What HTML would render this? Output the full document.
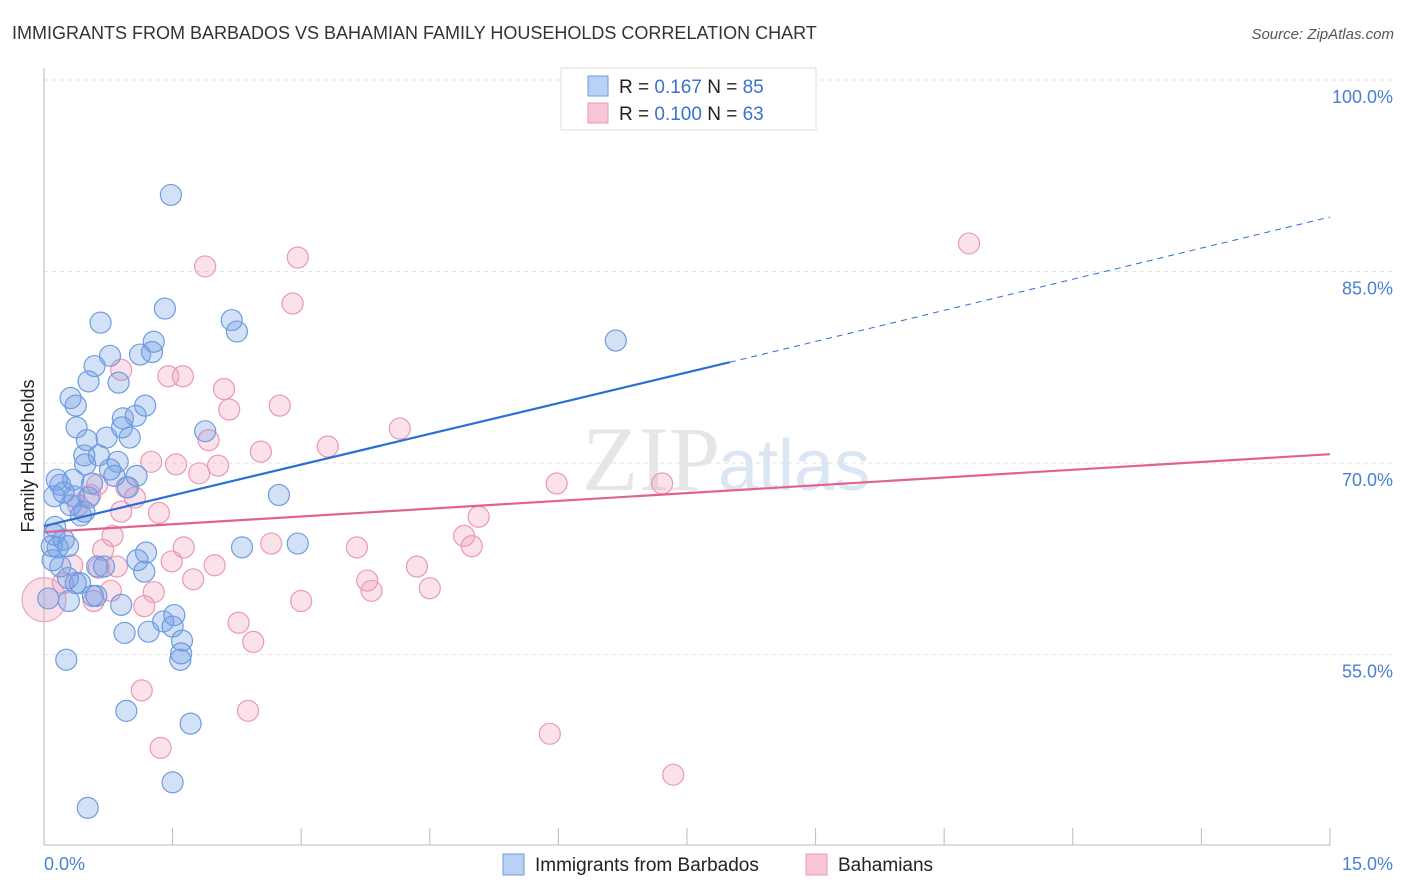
<!DOCTYPE html>
<html><head><meta charset="utf-8"><style>
body{margin:0;background:#fff;font-family:"Liberation Sans",sans-serif}
svg{display:block}
</style></head><body>
<svg id="c" width="1406" height="892">
<text x="12" y="39" font-size="18" fill="#333">IMMIGRANTS FROM BARBADOS VS BAHAMIAN FAMILY HOUSEHOLDS CORRELATION CHART</text>
<text x="1394" y="39" font-size="15" fill="#555" font-style="italic" text-anchor="end">Source: ZipAtlas.com</text>
<text x="720" y="490" font-size="92" fill="#e6e6e6" font-family="Liberation Serif,serif" text-anchor="end">ZIP</text>
<text x="718" y="490" font-size="72" fill="#dbe6f5">atlas</text>
<g id="grid"></g><g id="axes"></g><g id="pts"></g><g id="lines"></g>
<text transform="translate(34,456) rotate(-90)" font-size="18" fill="#222" text-anchor="middle">Family Households</text>
<g>
<rect x="561" y="68" width="255" height="62" fill="#fff" stroke="#ddd"/>
<rect x="588" y="76" width="20" height="20" fill="#b9d1f4" stroke="#6f9be0"/>
<rect x="588" y="103" width="20" height="20" fill="#f8c6d6" stroke="#e999b3"/>
<text x="619" y="93" font-size="19" fill="#222">R = <tspan fill="#3a72d1">0.167</tspan>   N = <tspan fill="#3a72d1">85</tspan></text>
<text x="619" y="120" font-size="19" fill="#222">R = <tspan fill="#3a72d1">0.100</tspan>   N = <tspan fill="#3a72d1">63</tspan></text>
</g>
<g>
<rect x="503" y="854" width="21" height="21" fill="#b9d1f4" stroke="#6f9be0"/>
<text x="535" y="871" font-size="19" fill="#222">Immigrants from Barbados</text>
<rect x="806" y="854" width="21" height="21" fill="#f8c6d6" stroke="#e999b3"/>
<text x="838" y="871" font-size="19" fill="#222">Bahamians</text>
</g>
</svg>
<script>
const yTicks=[100,85,70,55];
const yTickLabels=["100.0%","85.0%","70.0%","55.0%"];
const xTicks=[0,1.5,3,4.5,6,7.5,9,10.5,12,13.5,15];
const xLabels=["0.0%","15.0%"];
const blueX=[1.48,1.41,0.66,2.19,2.25,6.67,1.28,1.26,1.12,0.77,0.59,0.52,0.87,0.31,0.37,1.18,0.92,1.07,0.91,0.38,1.88,1.00,0.73,0.50,0.64,0.47,0.86,0.48,0.77,1.08,0.82,0.15,0.19,0.34,0.98,0.56,0.23,0.35,0.12,0.52,2.74,0.31,0.47,0.43,0.13,0.12,0.23,0.28,0.16,0.09,2.31,2.96,1.19,0.10,1.09,0.19,0.70,0.62,1.17,0.28,0.37,0.42,0.57,0.61,0.29,0.90,1.52,1.39,1.50,0.94,1.22,1.61,1.60,1.59,0.26,0.96,1.71,1.50,0.51,0.05];
const blueY=[91.0,82.1,81.0,81.2,80.3,79.6,79.5,78.7,78.5,78.4,77.6,76.4,76.3,75.1,74.5,74.5,73.5,73.7,72.8,72.8,72.5,72.0,72.0,71.8,70.6,70.6,70.1,69.9,69.5,69.0,69.0,68.7,68.3,68.7,68.1,68.4,67.7,67.4,67.4,67.3,67.5,66.7,66.2,65.9,65.0,64.4,64.0,63.5,63.4,63.5,63.4,63.7,63.0,62.4,62.4,61.9,61.9,61.9,61.5,61.0,60.6,60.6,59.6,59.6,59.2,58.9,58.1,57.6,57.2,56.7,56.8,56.1,55.1,54.6,54.6,50.6,49.6,45.0,43.0,59.4];
const pinkX=[10.79,2.96,1.88,2.90,0.90,1.45,1.62,2.10,2.75,2.16,4.15,1.92,3.31,2.53,1.25,1.54,2.03,1.81,5.98,7.21,0.62,0.96,0.54,1.06,0.40,0.90,1.34,5.07,0.80,4.90,4.99,2.65,3.65,1.63,0.69,1.49,1.99,0.33,4.35,0.85,0.64,1.74,3.77,0.22,4.50,3.82,0.78,1.28,3.00,0.58,1.17,2.27,2.44,1.14,2.38,5.90,1.36,7.34];
const pinkY=[87.2,86.1,85.4,82.5,77.3,76.8,76.8,75.8,74.5,74.2,72.7,71.8,71.3,70.9,70.1,69.9,69.8,69.2,68.4,68.4,68.3,68.1,67.5,67.3,66.7,66.2,66.1,65.8,64.3,64.3,63.5,63.7,63.4,63.4,63.2,62.3,62.0,62.0,61.9,61.9,61.8,60.9,60.8,60.6,60.2,60.0,60.0,59.9,59.2,59.2,58.8,57.5,56.0,52.2,50.6,48.8,47.7,45.6];
const bigPink=[0,59.3];
const blueTrend=[[0,65.07],[8.0,77.9],[15,89.27]];
const pinkTrend=[[0,64.6],[15,70.7]];
const NS="http://www.w3.org/2000/svg";
const X=v=>44+v*85.73, Y=v=>80+(100-v)*12.77;
function mk(p,t,a){const e=document.createElementNS(NS,t);for(const k in a)e.setAttribute(k,a[k]);p.appendChild(e);return e;}
const g=document.getElementById('grid'),ax=document.getElementById('axes'),pts=document.getElementById('pts'),ln=document.getElementById('lines');
yTicks.forEach((t,i)=>{
 const l=mk(g,'line',{x1:44,x2:1393,y1:Y(t),y2:Y(t),stroke:'#e2e2e2','stroke-dasharray':'4,4'});
 
 
 const tx=mk(g,'text',{x:1393,y:Y(t)+23,'font-size':18,fill:'#4a7fd4','text-anchor':'end'});tx.textContent=yTickLabels[i];
 
 
});
const a1=mk(ax,'line',{x1:44,x2:44,y1:68,y2:845,stroke:'#bbb'});


const a2=mk(ax,'line',{x1:44,x2:1330,y1:845,y2:845,stroke:'#bbb'});


xTicks.forEach(t=>{const l=mk(ax,'line',{x1:X(t),x2:X(t),y1:828,y2:845,stroke:'#bbb'});
 
 });
const xl0=mk(ax,'text',{x:44,y:870,'font-size':18,fill:'#4a7fd4'});xl0.textContent=xLabels[0];


const xl1=mk(ax,'text',{x:1393,y:870,'font-size':18,fill:'#4a7fd4','text-anchor':'end'});xl1.textContent=xLabels[1];


const bp=mk(pts,'circle',{cx:X(bigPink[0]),cy:Y(bigPink[1]),r:22,fill:'rgba(240,150,180,0.3)',stroke:'#e999b3'});


pinkX.forEach((x,i)=>{const c=mk(pts,'circle',{cx:X(x),cy:Y(pinkY[i]),r:10.5,fill:'rgba(240,150,180,0.28)',stroke:'#e999b3','stroke-width':1.2});
 
 });
blueX.forEach((x,i)=>{const c=mk(pts,'circle',{cx:X(x),cy:Y(blueY[i]),r:10.5,fill:'rgba(110,155,230,0.3)',stroke:'#6f9be0','stroke-width':1.2});
 
 });
const b1=mk(ln,'line',{x1:X(blueTrend[0][0]),y1:Y(blueTrend[0][1]),x2:X(blueTrend[1][0]),y2:Y(blueTrend[1][1]),stroke:'#2a6fd6','stroke-width':2.2});


const b2=mk(ln,'line',{x1:X(blueTrend[1][0]),y1:Y(blueTrend[1][1]),x2:X(blueTrend[2][0]),y2:Y(blueTrend[2][1]),stroke:'#2a6fd6','stroke-width':1,'stroke-dasharray':'6,5'});


const p1=mk(ln,'line',{x1:X(pinkTrend[0][0]),y1:Y(pinkTrend[0][1]),x2:X(pinkTrend[1][0]),y2:Y(pinkTrend[1][1]),stroke:'#e0628e','stroke-width':2.2});


</script>
</body></html>
